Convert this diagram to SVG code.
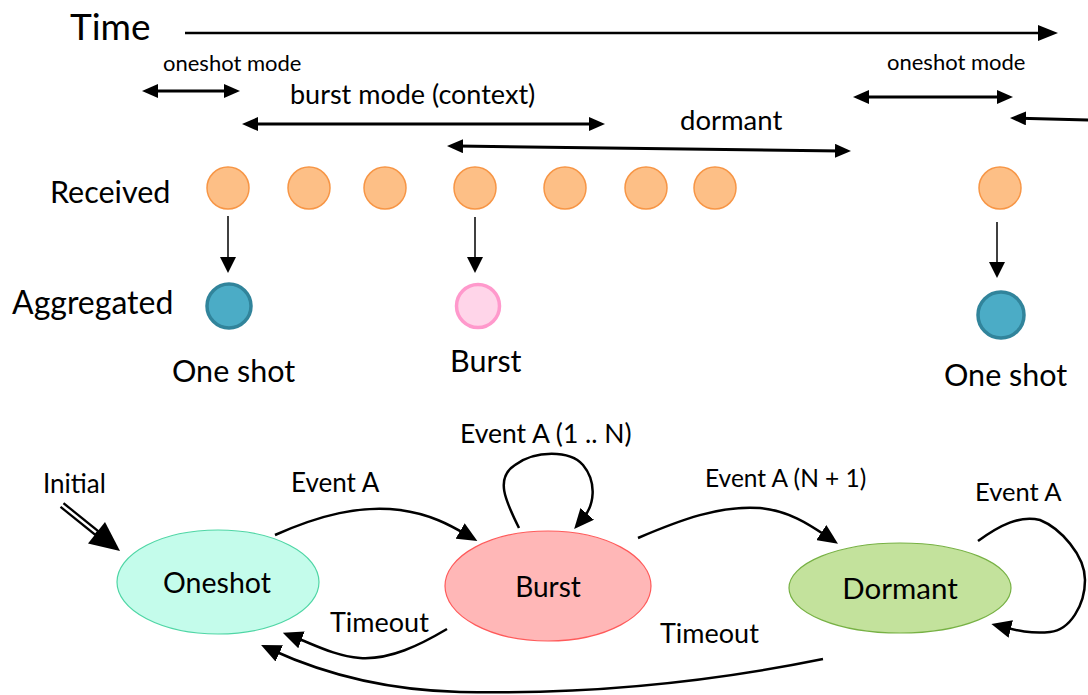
<svg xmlns="http://www.w3.org/2000/svg" width="1088" height="695" viewBox="0 0 1088 695">
  <style>
    text { font-family: Lato, "Open Sans", "Liberation Sans", sans-serif; fill: #000; }
    .recv { fill: #FDBF86; stroke: #F79646; stroke-width: 1.5; }
    .agg-one { fill: #4BACC6; stroke: #31849B; stroke-width: 3.5; }
    .agg-burst { fill: #FFD5E9; stroke: #FF99CC; stroke-width: 3.5; }
    .span { stroke: #000; stroke-width: 3; fill: none; marker-start: url(#head); marker-end: url(#head); }
    .drop { stroke: #000; stroke-width: 1.5; fill: none; marker-end: url(#headDown); }
    .edge { stroke: #000; stroke-width: 2.5; fill: none; marker-end: url(#headEdge); }
  </style>
  <defs>
    <marker id="head" viewBox="0 0 16 14" refX="6" refY="7" markerWidth="16" markerHeight="14" markerUnits="userSpaceOnUse" orient="auto-start-reverse">
      <path d="M0,0 L16,7 L0,14 z" fill="#000"/>
    </marker>
    <marker id="headBig" viewBox="0 0 20 16" refX="6" refY="8" markerWidth="20" markerHeight="16" markerUnits="userSpaceOnUse" orient="auto">
      <path d="M0,0 L20,8 L0,16 z" fill="#000"/>
    </marker>
    <marker id="headDown" viewBox="0 0 16 16" refX="4" refY="8" markerWidth="16" markerHeight="16" markerUnits="userSpaceOnUse" orient="auto">
      <path d="M0,0 L16,8 L0,16 z" fill="#000"/>
    </marker>
    <marker id="headEdge" viewBox="0 0 20 18" refX="8" refY="9" markerWidth="20" markerHeight="18" markerUnits="userSpaceOnUse" orient="auto">
      <path d="M0,0 L20,9 L0,18 z" fill="#000"/>
    </marker>
  </defs>

  <!-- timeline -->
  <g id="timeline">
    <text x="70" y="40" font-size="37">Time</text>
    <line x1="185" y1="33" x2="1044" y2="33" stroke="#000" stroke-width="2.5" marker-end="url(#headBig)"/>
  </g>

  <!-- mode spans -->
  <g id="spans">
    <text x="163" y="71" font-size="22">oneshot mode</text>
    <line class="span" x1="152" y1="91" x2="230" y2="91"/>
    <text x="290" y="104" font-size="27">burst mode (context)</text>
    <line class="span" x1="252" y1="124" x2="595" y2="124"/>
    <text x="680" y="130" font-size="27.5">dormant</text>
    <line class="span" x1="457" y1="146.1" x2="841" y2="150.9"/>
    <text x="887" y="70" font-size="22">oneshot mode</text>
    <line class="span" x1="863" y1="97" x2="1003" y2="97"/>
    <line x1="1020" y1="118.2" x2="1092" y2="120" stroke="#000" stroke-width="3" marker-start="url(#head)"/>
  </g>

  <!-- received events -->
  <g id="received">
    <text x="50" y="203" font-size="30.5">Received</text>
    <circle class="recv" cx="228" cy="188" r="21"/>
    <circle class="recv" cx="309" cy="188" r="21"/>
    <circle class="recv" cx="385" cy="188" r="21"/>
    <circle class="recv" cx="475" cy="188" r="21"/>
    <circle class="recv" cx="565" cy="188" r="21"/>
    <circle class="recv" cx="646" cy="188" r="21"/>
    <circle class="recv" cx="715" cy="188" r="21"/>
    <circle class="recv" cx="1000" cy="188" r="21"/>
  </g>

  <!-- aggregation arrows -->
  <g id="aggregation-links">
    <line class="drop" x1="228" y1="216" x2="228" y2="261"/>
    <line class="drop" x1="475" y1="217" x2="475" y2="261"/>
    <line class="drop" x1="997" y1="222" x2="997" y2="266"/>
  </g>

  <!-- aggregated events -->
  <g id="aggregated">
    <text x="12" y="314" font-size="32">Aggregated</text>
    <g id="agg-oneshot-1">
      <circle class="agg-one" cx="229" cy="306" r="22"/>
      <text x="172" y="382" font-size="30.5">One shot</text>
    </g>
    <g id="agg-burst">
      <circle class="agg-burst" cx="478" cy="306" r="21.5"/>
      <text x="450" y="372" font-size="30.5">Burst</text>
    </g>
    <g id="agg-oneshot-2">
      <circle class="agg-one" cx="1001" cy="315" r="23"/>
      <text x="944" y="386" font-size="30.5">One shot</text>
    </g>
  </g>

  <!-- state machine transitions -->
  <g id="transitions">
    <g id="initial">
      <text x="43" y="493" font-size="26">Initial</text>
      <line x1="62" y1="505" x2="98" y2="534" stroke="#000" stroke-width="7"/>
      <line x1="59" y1="502.6" x2="96" y2="532.4" stroke="#fff" stroke-width="2.5"/>
      <polygon points="120,551 88,543.5 105,522" fill="#000"/>
    </g>
    <text x="291" y="492" font-size="26">Event A</text>
    <path class="edge" d="M275,535 C320,515 360,505 400,510 C430,514 450,525 467,535"/>
    <text x="460" y="443" font-size="26.5">Event A (1 .. N)</text>
    <path class="edge" d="M519,528 C505,500 495,478 515,465 C535,450 570,450 583,465 C597,482 595,505 582,520"/>
    <text x="705" y="487" font-size="24.5">Event A (N + 1)</text>
    <path class="edge" d="M638,538 C680,520 720,505 760,508 C790,511 810,525 828,537"/>
    <text x="975" y="501" font-size="25.5">Event A</text>
    <path class="edge" d="M978,541 C1000,525 1020,515 1040,520 C1060,528 1085,555 1085,580 C1085,605 1070,630 1050,632 C1030,634 1015,630 1003,627"/>
    <text x="330" y="632" font-size="27">Timeout</text>
    <path class="edge" d="M447,629 C420,645 390,660 360,658 C335,656 315,645 294,637"/>
    <text x="660" y="643" font-size="27">Timeout</text>
    <path class="edge" d="M823,659 C720,680 600,695 460,692 C380,690 320,672 272,650"/>
  </g>

  <!-- states -->
  <g id="state-oneshot">
    <ellipse cx="218" cy="582" rx="101" ry="52" fill="#C4FCEB" stroke="#4FD6A5" stroke-width="1.2"/>
    <text x="217" y="593" font-size="28.5" text-anchor="middle">Oneshot</text>
  </g>
  <g id="state-burst">
    <ellipse cx="548" cy="586" rx="103" ry="55" fill="#FFB7B7" stroke="#FF5A5A" stroke-width="1.2"/>
    <text x="548" y="597" font-size="28" text-anchor="middle">Burst</text>
  </g>
  <g id="state-dormant">
    <ellipse cx="900" cy="588" rx="111" ry="45" fill="#C3E29C" stroke="#77B144" stroke-width="1.2"/>
    <text x="900" y="599" font-size="29.5" text-anchor="middle">Dormant</text>
  </g>
</svg>
